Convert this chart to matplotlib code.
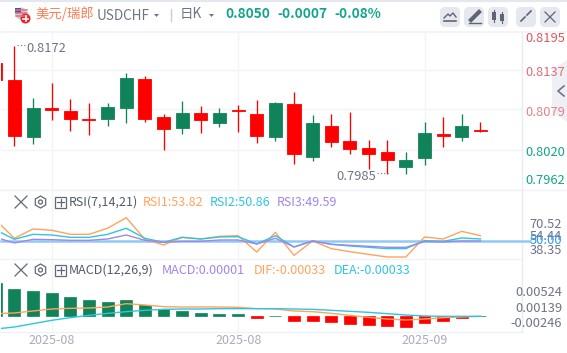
import matplotlib
matplotlib.use("Agg")
import matplotlib.pyplot as plt
from matplotlib.patches import FancyBboxPatch, Polygon, Rectangle, Circle, RegularPolygon

plt.rcParams['font.family'] = ['Noto Sans CJK SC', 'DejaVu Sans']

# daily candles, the first one is cut by the left edge
days = list(range(-1, 26))
opens = [.81219, .80398, .80811, .80782, .80651, .80636, .80826, .81249, .80651, .80505, .80738, .80636, .80738,
         .80767, .80403, .80884, .8014, .80592, .80315, .80213, .8014, .80053, .80053, .80447, .80403, .80549, .80476]
closes = [.81472, .81219, .80393, .80811, .80767, .80651, .80651, .80811, .81234, .8068, .8052, .80738, .80592,
          .80782, .80724, .80393, .80869, .80097, .80549, .8033, .80228, .8017, .79951, .80082, .80432, .80393, .8049]
highs = [.81472, .8172, .80957, .81176, .80942, .80884, .80884, .81321, .81278, .80724, .80913, .8084, .80811,
         .80855, .80928, .80899, .81044, .80709, .80724, .80753, .80345, .80345, .8017, .80607, .8068, .80724, .80607]
lows = [.81219, .80257, .80286, .80636, .80476, .80418, .80549, .80592, .80607, .80199, .80432, .80447, .80534,
        .80461, .80301, .8033, .79995, .80038, .80243, .8014, .79922, .7985, .7985, .7998, .80243, .8033, .80461]

rsi1 = [75.3, 53.2, 64.5, 62.9, 58.0, 58.0, 65.3, 78.1, 52.0, 45.2, 54.4, 52.4, 55.6, 56.4, 36.7, 60.4, 32.7, 50.0,
        40.8, 37.1, 33.9, 30.7, 30.7, 54.8, 52.4, 61.6, 56.4]
rsi2 = [63.3, 52.0, 58.0, 57.2, 54.4, 54.4, 58.0, 65.3, 53.2, 48.4, 54.4, 52.4, 54.8, 55.2, 46.4, 56.4, 42.8, 50.0,
        46.0, 44.0, 42.4, 40.8, 40.8, 50.4, 49.6, 53.6, 52.4]
rsi3 = [54.4, 47.6, 52.0, 51.6, 50.8, 50.8, 52.4, 57.2, 50.8, 48.4, 49.6, 49.6, 51.2, 51.2, 46.4, 53.2, 42.8, 50.0,
        46.0, 44.8, 43.6, 42.4, 42.4, 49.2, 48.8, 50.0, 50.0]

hist = [.00822, .0068, .00629, .00579, .00478, .00403, .00352, .00403, .00277, .00176, .00126, .00076, .0005, .0005,
        -.0005, .00003, -.00126, -.00126, -.00151, -.00201, -.00227, -.00252, -.00277, -.00176, -.00126, -.0005, .00001]
dif = [.00059, .00076, .00126, .00176, .00193, .00201, .00227, .0031, .00277, .00235, .00227, .00227, .00227, .00218,
       .00185, .00176, .00126, .00109, .00067, .00017, -.00034, -.00076, -.00101, -.00076, -.00042, -.00025, -.00008]
dea = [-.00327, -.00277, -.00193, -.00109, -.00042, .00017, .00067, .00109, .00143, .00168, .00176, .00176, .00185,
       .00185, .00185, .00185, .00176, .00168, .00143, .00117, .00092, .00059, .00025, 0, -.00008, -.00008, -.00008]

price_ticks = ['0.8195', '0.8137', '0.8079', '0.8020', '0.7962']
rsi_ticks = ['70.52', '54.44', '50.00', '38.35']
macd_ticks = ['0.00524', '0.00139', '-0.00246']
date_labels = ['2025-08', '2025-08', '2025-09']
date_days = [2, 12, 22]
grid_prices = [.8137, .8079, .8020]

RED = '#ff0000'
GREEN = '#11835a'
ORANGE = '#ffa35c'
CYAN = '#2ec5e0'
PURPLE = '#a285ea'
GRID = '#f2f4f9'
TXT = '#6f7486'
W, H = 567, 353

fig = plt.figure(figsize=(W / 100, H / 100), dpi=100, facecolor='white')


def pane(top, bottom, ylim):
    ax = fig.add_axes([1 / W, 1 - bottom / H, 521 / W, (bottom - top) / H])
    ax.set_xlim(-0.719, 27.23)
    ax.set_ylim(*ylim)
    ax.axis('off')
    for d in date_days:
        ax.axvline(d, color=GRID, lw=1, zorder=0)
    return ax


# canvas in pixels for the frame, header and labels
bg = fig.add_axes([0, 0, 1, 1])
bg.set_xlim(0, W)
bg.set_ylim(H, 0)
bg.axis('off')
bg.plot([0, W], [0.5, 0.5], color='#e4e7f0', lw=1.5)
bg.plot([0, W], [32, 32], color='#f3f4f8', lw=1.5)
for y in [190, 259, 332]:
    bg.plot([0, W if y == 190 else 522], [y, y], color='#eff1f6', lw=1)
bg.plot([522, 522], [32, 332], color='#e9ebf2', lw=1)
bg.add_patch(Polygon([(567, 60), (552, 70), (552, 112), (567, 122)], color='#eff0f5', lw=0))
bg.plot([564, 558, 564], [86, 91, 96], color='#6f7486', lw=1.2)

# main pane
ax1 = pane(32, 190, (.79617, .81919))
for p in grid_prices:
    ax1.axhline(p, color=GRID, lw=1, zorder=0)
for d, o, c, hi, lo in zip(days, opens, closes, highs, lows):
    col = RED if c >= o else GREEN
    ax1.plot([d, d], [lo, hi], color=col, lw=0.95, solid_capstyle='butt', zorder=2)
    ax1.bar(d, abs(c - o), bottom=min(o, c), width=0.7, color=col, lw=0.6, edgecolor=col, zorder=3)

# rsi pane
ax2 = pane(190, 259, (28.3, 111.4))
ax2.plot(days, rsi1, color=ORANGE, lw=1, zorder=2)
ax2.plot(days, rsi2, color=CYAN, lw=1, zorder=3)
ax2.plot(days, rsi3, color=PURPLE, lw=1, zorder=4)
ax2.axhline(50, color='#8fcaf7', lw=1.8, zorder=1, xmax=1.016, clip_on=False)

# macd pane
ax3 = pane(259, 332, (-.00403, .01435))
ax3.bar(days, hist, width=0.64, color=[GREEN if v > 0 else RED for v in hist],
        edgecolor=[GREEN if v > 0 else RED for v in hist], lw=0.5, zorder=2)
ax3.plot(days, dif, color=ORANGE, lw=1, zorder=3)
ax3.plot(days, dea, color=CYAN, lw=1, zorder=4)

# everything below sits on top of the panes
top = fig.add_axes([0, 0, 1, 1], facecolor='none')
top.set_xlim(0, W)
top.set_ylim(H, 0)
top.axis('off')


def label(x, y, s, color=TXT, size=9.3, **kw):
    top.text(x, y, s, color=color, fontsize=size, va='center', **kw)


# flag icon
top.add_patch(Circle((21, 13.5), 6, color='#c9ccd8', lw=0))
for y in [9.5, 12.5, 15.5]:
    top.plot([16, 27], [y, y], color='#e2707a', lw=1.1)
top.add_patch(Rectangle((15, 8), 6, 5, color='#4a5a96', lw=0))
top.add_patch(Circle((25.5, 18.5), 5, color='#f01f26', lw=0))
top.plot([22.8, 28.2], [18.5, 18.5], color='white', lw=1.2)
top.plot([25.5, 25.5], [16, 21], color='white', lw=1.2)

label(35, 14, '美元/瑞郎', color='#ff7d57', size=9.6)
label(97, 15.5, 'USDCHF', size=9.7)
top.add_patch(Polygon([(154, 14), (159, 14), (156.5, 17)], color=TXT, lw=0))
top.plot([170.5, 170.5], [9, 21], color='#c8ccd8', lw=1)
label(180, 14, '日K', size=9.7)
top.add_patch(Polygon([(209, 14), (214, 14), (211.5, 17)], color=TXT, lw=0))
label(225, 14, '0.8050', color='#12a58b', size=9.8, fontweight='bold')
label(277, 14, '-0.0007', color='#12a58b', size=9.8, fontweight='bold')
label(334, 14, '-0.08%', color='#12a58b', size=9.8, fontweight='bold')

# toolbar buttons
for x in [440, 464, 488, 516, 540]:
    top.add_patch(FancyBboxPatch((x + 2, 9), 16, 16, boxstyle='round,pad=0,rounding_size=3',
                                 mutation_scale=1, fc='#e6e8f0', ec='#e6e8f0', lw=3))
top.plot([444, 448, 450, 453, 456], [18, 14, 16, 13, 17], color='#5f6475', lw=1)
top.plot([444, 456], [21, 21], color='#5f6475', lw=1.2)
top.plot([471, 479], [20, 12], color='#5f6475', lw=3)
top.plot([469, 481], [22.5, 22.5], color='#5f6475', lw=1)
for x, y0, y1 in [(494, 12, 22), (502, 14, 23)]:
    top.add_patch(Rectangle((x - 2, y0), 4, y1 - y0 - 2, color='#5f6475', lw=0))
    top.plot([x, x], [y0 - 2, y1], color='#5f6475', lw=0.8)
top.plot([521, 525], [21, 17], color='#5f6475', lw=1.2)
top.plot([527, 531], [15, 11], color='#5f6475', lw=1.2)
top.plot([545, 555], [12, 22], color='#5f6475', lw=0.9)
top.plot([545, 555], [22, 12], color='#5f6475', lw=0.9)

# price axis
price_y = [39, 72, 112, 152, 181]
price_col = ['#e2565f', '#e66a73', '#e68089', '#12a58b', '#12a58b']
for s, y, c in zip(price_ticks, price_y, price_col):
    label(525, y, s, color=c)

# high and low marks
label(26, 48.5, '0.8172')
top.plot([17, 25], [45, 45], color=TXT, lw=0.8, ls=(0, (1, 2)))
label(336, 176.5, '0.7985')
top.plot([377, 388], [173, 173], color=TXT, lw=0.8, ls=(0, (1, 2)))

# indicator headers
for y, name in [(202, 'rsi'), (270, 'macd')]:
    top.plot([15, 27], [y - 6, y + 6], color='#62677a', lw=0.9)
    top.plot([15, 27], [y + 6, y - 6], color='#62677a', lw=0.9)
    top.add_patch(RegularPolygon((40.5, y), 6, radius=6, fc='none', ec='#62677a', lw=0.9))
    top.add_patch(Circle((40.5, y), 2, fc='none', ec='#62677a', lw=0.9))
    top.add_patch(Rectangle((55, y - 5.5), 11, 11, fc='none', ec='#62677a', lw=0.9))
    top.plot([57, 64], [y, y], color='#62677a', lw=0.9)
    top.plot([60.5, 60.5], [y - 3.5, y + 3.5], color='#62677a', lw=0.9)

label(69, 202, 'RSI(7,14,21)', color='#555a6c', size=9)
label(143, 202, 'RSI1:53.82', color=ORANGE, size=9)
label(210, 202, 'RSI2:50.86', color=CYAN, size=9)
label(277, 202, 'RSI3:49.59', color=PURPLE, size=9)
label(69, 270, 'MACD(12,26,9)', color='#555a6c', size=9)
label(162, 270, 'MACD:0.00001', color=PURPLE, size=9)
label(254, 270, 'DIF:-0.00033', color=ORANGE, size=9)
label(334, 270, 'DEA:-0.00033', color=CYAN, size=9)

# indicator axes
for s, y, c in zip(rsi_ticks, [224.5, 236, 241, 251], [TXT, TXT, '#2e9bef', TXT]):
    label(562, y, s, color=c, ha='right')
for s, y in zip(macd_ticks, [292.5, 308.5, 323.5]):
    label(562, y, s, ha='right')

# date axis
for s, x in zip(date_labels, [52, 238.5, 424.5]):
    label(x, 340.5, s, color='#a9adbb', size=9, ha='center')

fig.savefig('out.png', dpi=100)
